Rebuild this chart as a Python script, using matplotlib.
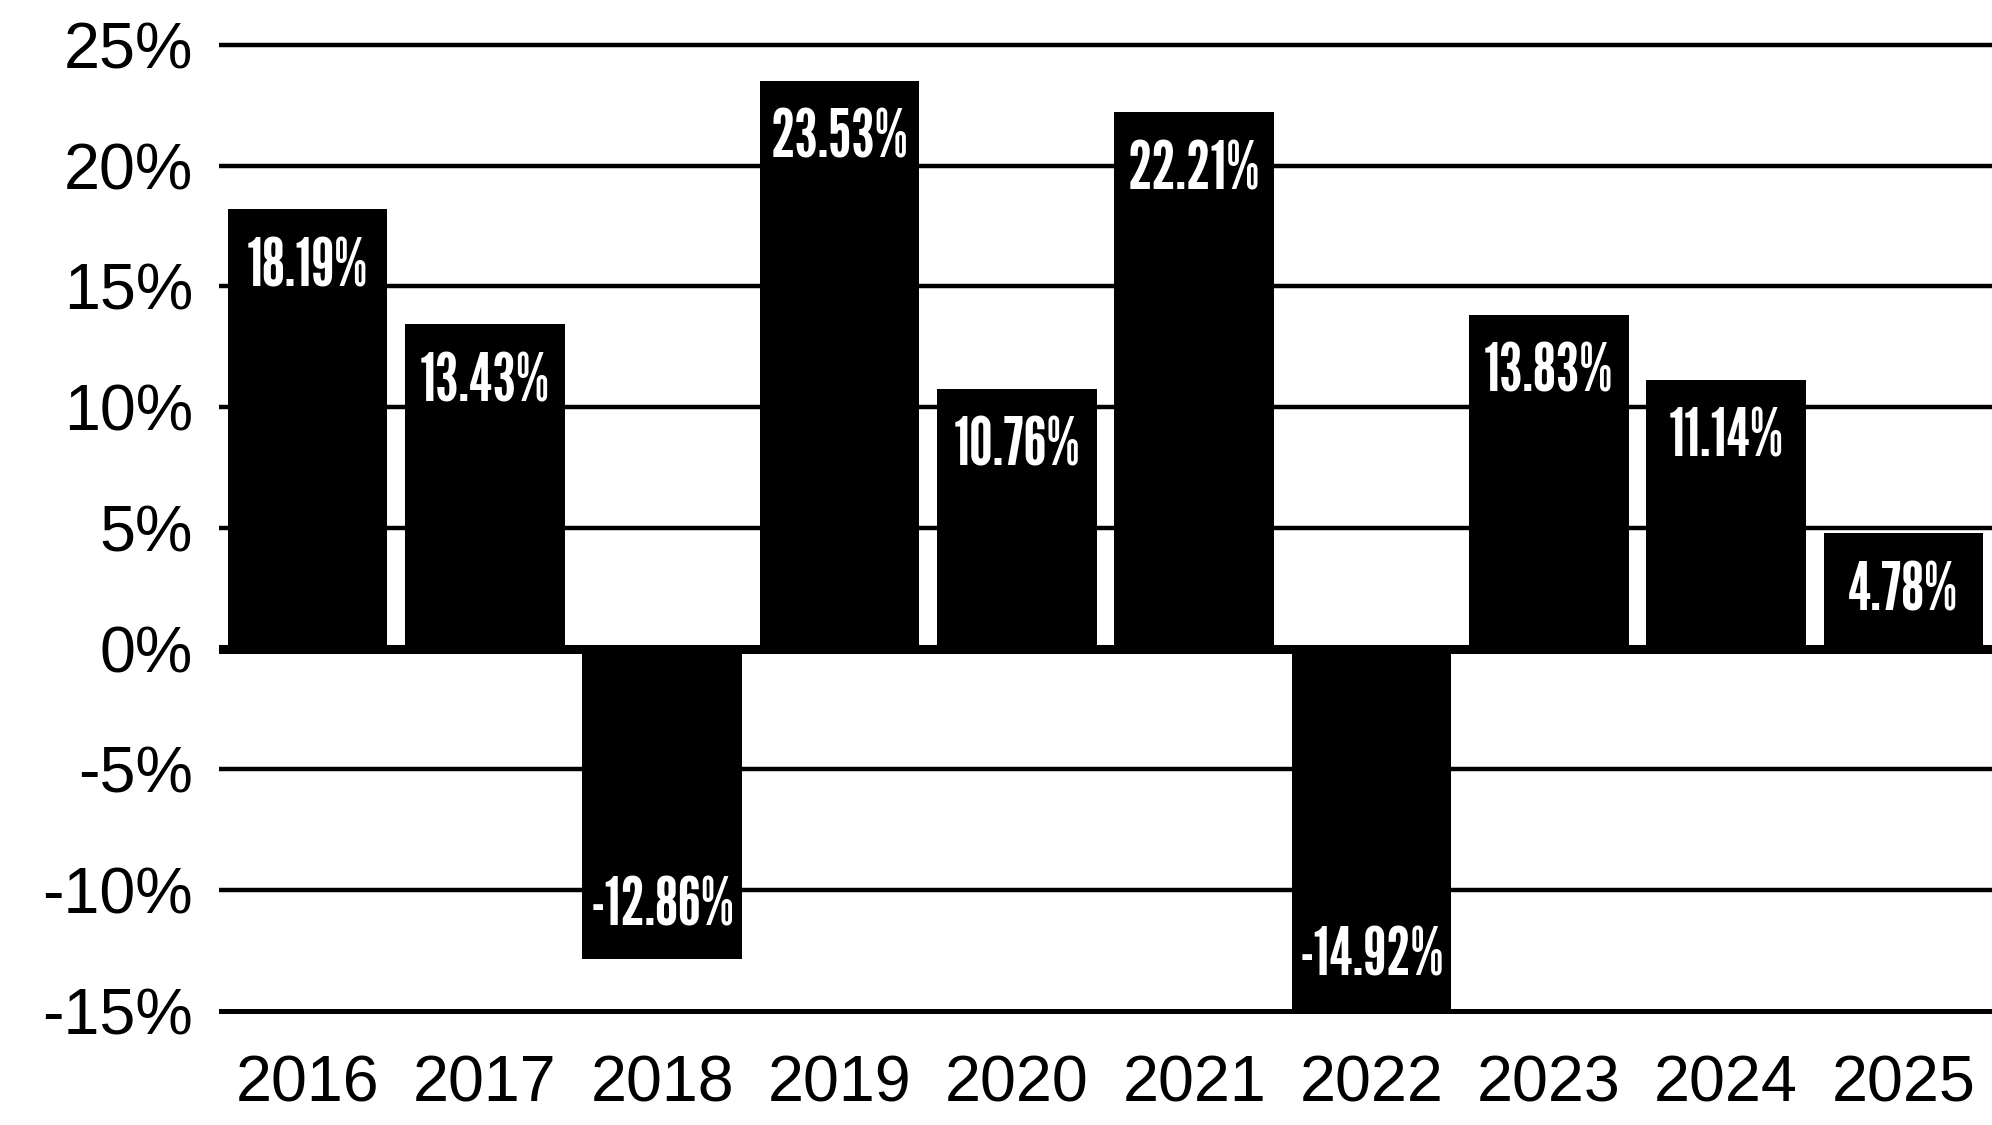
import matplotlib
matplotlib.use("Agg")
import matplotlib.pyplot as plt

years = ['2016', '2017', '2018', '2019', '2020', '2021', '2022', '2023', '2024', '2025']
returns = [18.19, 13.43, -12.86, 23.53, 10.76, 22.21, -14.92, 13.83, 11.14, 4.78]
y_ticks = [-15, -10, -5, 0, 5, 10, 15, 20, 25]
y_labels = ['%d%%' % t for t in y_ticks]

tick_font = ['Liberation Sans', 'DejaVu Sans']
label_font = ['League Gothic', 'Oswald', 'DejaVu Sans']

fig = plt.figure(figsize=(19.92, 11.25), dpi=100)
ax = fig.add_axes([219 / 1992, 0.09307, 1773 / 1992, 0.8755])

x = list(range(len(years)))

# gridlines under the bars
for t in y_ticks:
    if t == 0:
        continue
    lw = 3.6 if t == y_ticks[0] else 3.2
    ax.axhline(t, color='black', linewidth=lw, zorder=1)

ax.bar(x, returns, width=0.9, color='black', zorder=2)
ax.axhline(0, color='black', linewidth=6.5, zorder=3)

for xi, v in zip(x, returns):
    txt = '%.2f%%' % v
    if v >= 0:
        ax.annotate(txt, xy=(xi, v), xytext=(0, -55.5), textcoords='offset points',
                    ha='center', va='baseline', color='white', fontsize=48,
                    family=label_font, zorder=4)
    else:
        ax.annotate(txt, xy=(xi, v), xytext=(0, 24), textcoords='offset points',
                    ha='center', va='baseline', color='white', fontsize=48,
                    family=label_font, zorder=4)

ax.set_xlim(-0.5, len(years) - 0.5)
ax.set_ylim(-15.4, 25.4)
ax.set_xticks(x)
ax.set_xticklabels(years, family=tick_font, fontsize=46.5)
ax.set_yticks(y_ticks)
ax.set_yticklabels(y_labels, family=tick_font, fontsize=46.5)
ax.tick_params(axis='x', length=0, pad=24.3)
ax.tick_params(axis='y', length=0, pad=18.7)
for s in ax.spines.values():
    s.set_visible(False)

fig.savefig("out.png", dpi=100)
